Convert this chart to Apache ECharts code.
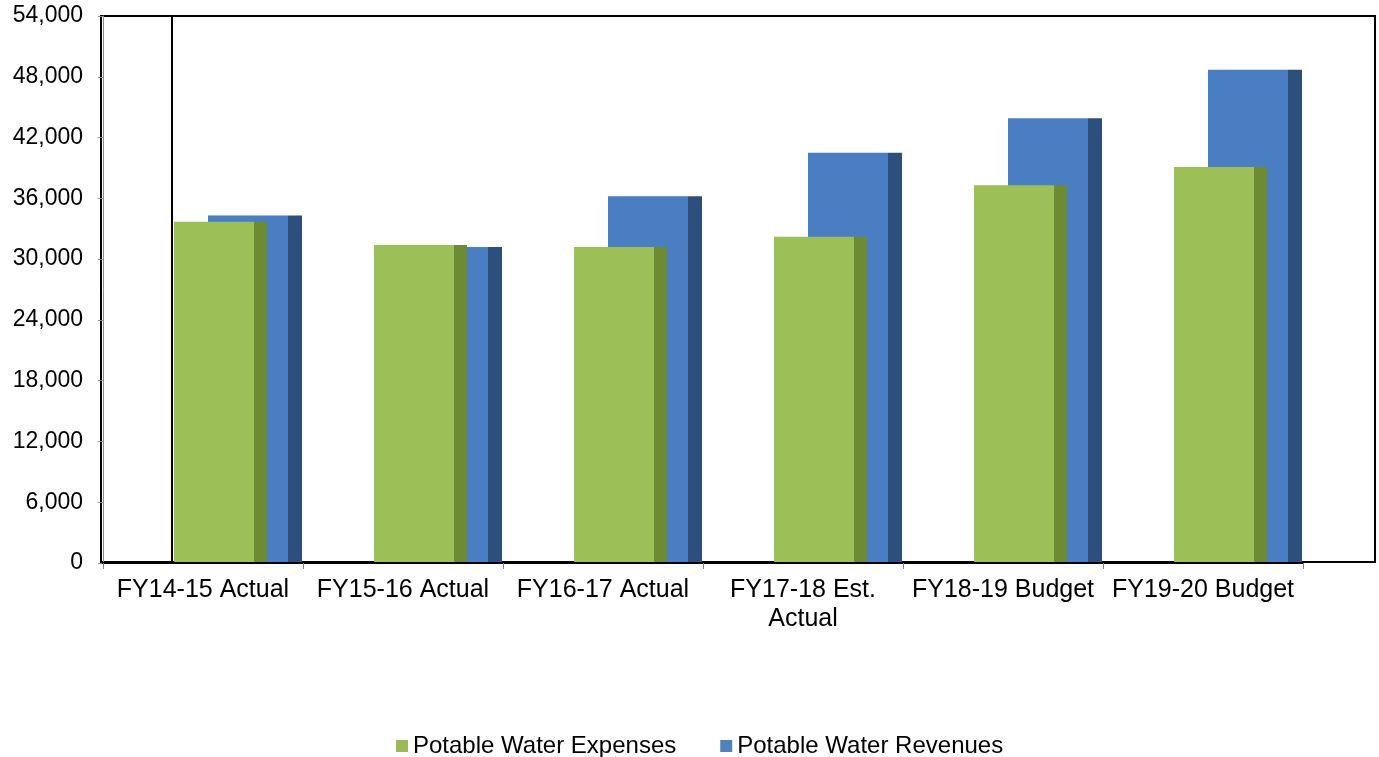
<!DOCTYPE html>
<html>
<head>
<meta charset="utf-8">
<script src="https://cdn.jsdelivr.net/npm/echarts@6/dist/echarts.min.js"></script>
<style>
  html, body { margin: 0; padding: 0; background: #ffffff; }
  #chart { width: 1379px; height: 757px; }
</style>
</head>
<body>
<div id="chart"></div>
<script>
// Fiscal years shown along the category axis
const categories = ['FY14-15 Actual', 'FY15-16 Actual', 'FY16-17 Actual', 'FY17-18 Est. Actual', 'FY18-19 Budget', 'FY19-20 Budget'];
// Potable water figures (thousands)
const expenses = [33700, 31400, 31200, 32200, 37300, 39100];
const revenues = [34300, 31200, 36200, 40500, 43900, 48700];
// Value axis range
const yMin = 0;
const yMax = 54000;
const yStep = 6000;

const FONT = '"Liberation Sans", Arial, sans-serif';

// Draws a pseudo-3D column: a lit front face plus a darker side face.
// Offsets are fractions of the category band width, measured from its centre.
function columnRenderer(frontFrom, frontTo, sideTo, frontColor, sideColor) {
  return function (params, api) {
    const idx = api.value(0);
    const val = api.value(1);
    const top = api.coord([idx, val]);
    const base = api.coord([idx, 0]);
    const band = api.size([1, 0])[0];
    const c = top[0];
    const h = base[1] - top[1];
    return {
      type: 'group',
      children: [
        {
          type: 'rect',
          shape: { x: c + band * frontFrom, y: top[1], width: band * (frontTo - frontFrom), height: h },
          style: { fill: frontColor }
        },
        {
          type: 'rect',
          shape: { x: c + band * frontTo, y: top[1], width: band * (sideTo - frontTo), height: h },
          style: { fill: sideColor }
        }
      ]
    };
  };
}

const chart = echarts.init(document.getElementById('chart'), null, { renderer: 'canvas' });

chart.setOption({
  backgroundColor: '#ffffff',
  animation: false,
  textStyle: { fontFamily: FONT },
  legend: {
    left: 391,
    top: 729,
    icon: 'rect',
    itemWidth: 12,
    itemHeight: 12,
    itemGap: 44,
    textStyle: { fontFamily: FONT, fontSize: 24, color: '#000000', padding: [0, 0, 0, 0] },
    data: ['Potable Water Expenses', 'Potable Water Revenues']
  },
  grid: [
    // plotting area
    { left: 103, top: 16, width: 1200, height: 547, containLabel: false },
    // outer frame of the chart box
    { left: 101, top: 16, right: 4, height: 546, show: true, borderColor: '#000000', borderWidth: 2, backgroundColor: 'transparent', z: 0 },
    // back wall edge
    { left: 172, top: 16, right: 4, height: 546, show: true, borderColor: '#000000', borderWidth: 2, backgroundColor: 'transparent', z: 0 }
  ],
  xAxis: [
    {
      type: 'category',
      gridIndex: 0,
      data: categories,
      boundaryGap: true,
      axisLine: { show: true, lineStyle: { color: '#000000', width: 2 } },
      axisTick: { show: true, length: 6, alignWithLabel: false, lineStyle: { color: '#808080', width: 1 } },
      axisLabel: {
        interval: 0,
        margin: 13,
        fontFamily: FONT,
        fontSize: 25,
        lineHeight: 29,
        color: '#000000',
        formatter: function (v) { return v.replace('Est. ', 'Est.\n'); }
      },
      z: 5
    },
    { type: 'value', gridIndex: 1, show: false },
    { type: 'value', gridIndex: 2, show: false }
  ],
  yAxis: [
    {
      type: 'value',
      gridIndex: 0,
      min: yMin,
      max: yMax,
      interval: yStep,
      axisLine: { show: true, lineStyle: { color: '#8c8c8c', width: 1 } },
      axisTick: { show: true, length: 5, lineStyle: { color: '#8c8c8c' } },
      splitLine: { show: false },
      axisLabel: {
        margin: 20,
        fontFamily: FONT,
        fontSize: 23,
        color: '#000000',
        formatter: function (v) { return v.toLocaleString('en-US'); }
      }
    },
    { type: 'value', gridIndex: 1, show: false },
    { type: 'value', gridIndex: 2, show: false }
  ],
  series: [
    {
      name: 'Potable Water Revenues',
      type: 'custom',
      xAxisIndex: 0,
      yAxisIndex: 0,
      z: 2,
      itemStyle: { color: '#4f81bd' },
      renderItem: columnRenderer(0.025, 0.425, 0.495, '#4a7ec2', '#2d4f7c'),
      encode: { x: 0, y: 1 },
      data: revenues.map(function (v, i) { return [i, v]; })
    },
    {
      name: 'Potable Water Expenses',
      type: 'custom',
      xAxisIndex: 0,
      yAxisIndex: 0,
      z: 3,
      itemStyle: { color: '#9bbb59' },
      renderItem: columnRenderer(-0.145, 0.255, 0.32, '#9dbf57', '#6d8a35'),
      encode: { x: 0, y: 1 },
      data: expenses.map(function (v, i) { return [i, v]; })
    }
  ]
});
</script>
</body>
</html>
